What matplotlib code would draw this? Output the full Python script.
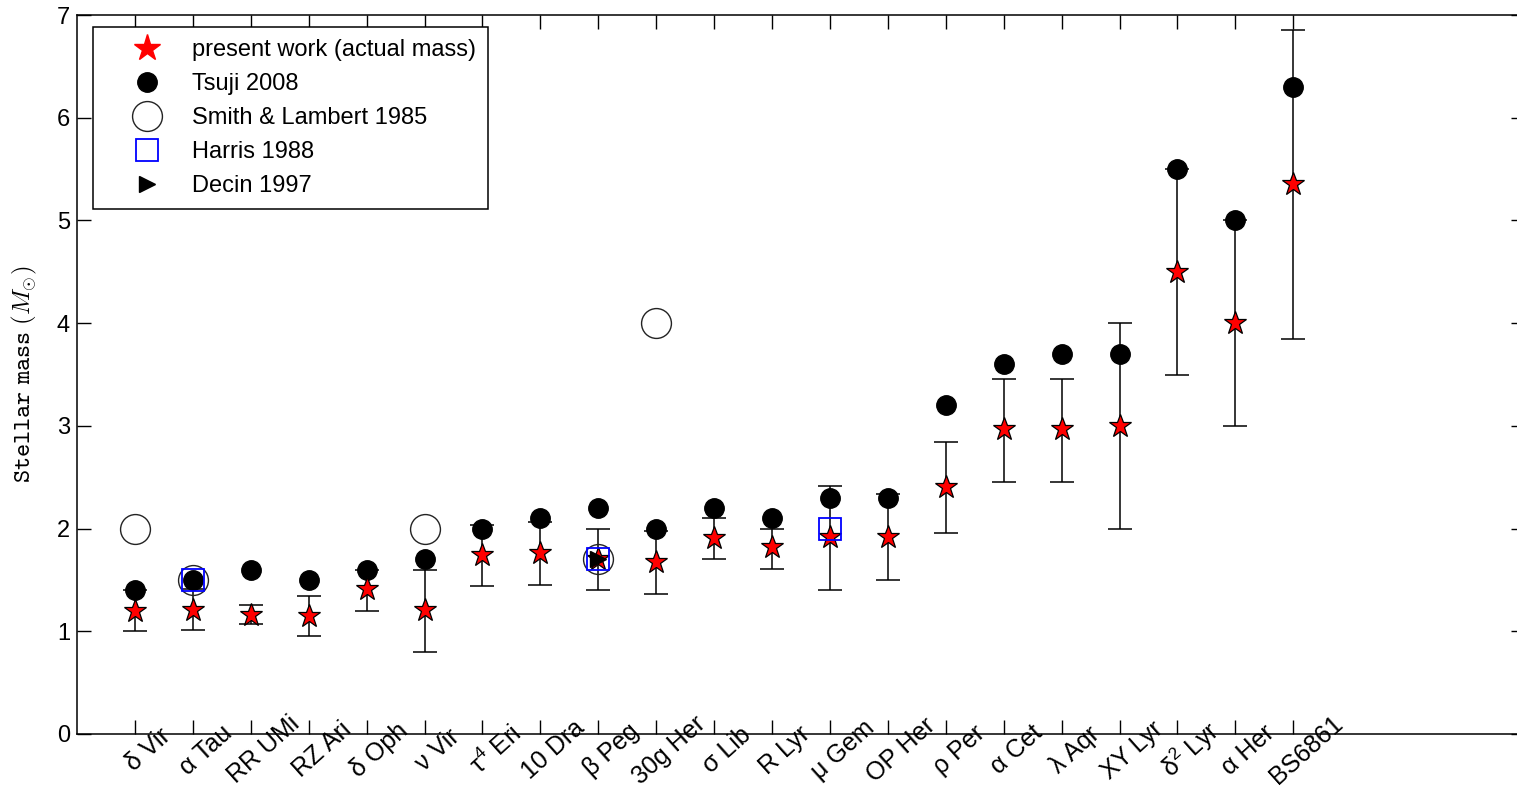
import numpy as np
import matplotlib
matplotlib.use('Agg')
from matplotlib import pyplot as plt
from matplotlib.lines import Line2D
from matplotlib.transforms import ScaledTranslation

plt.rcParams['font.family'] = ['Liberation Sans', 'DejaVu Sans']

# star names along the x axis
stars = ['δ Vir', 'α Tau', 'RR UMi', 'RZ Ari', 'δ Oph', 'ν Vir',
         r'τ$\mathregular{^4}$ Eri', '10 Dra', 'β Peg', '30g Her', 'σ Lib',
         'R Lyr', 'μ Gem', 'OP Her', 'ρ Per', 'α Cet', 'λ Aqr', 'XY Lyr',
         r'δ$\mathregular{^2}$ Lyr', 'α Her', 'BS6861']
xpos = np.arange(1, len(stars) + 1)

# present work (actual mass) with error range
present = [1.20, 1.21, 1.16, 1.15, 1.41, 1.21, 1.74, 1.76, 1.70, 1.67, 1.91,
           1.82, 1.92, 1.92, 2.40, 2.97, 2.97, 3.00, 4.50, 4.00, 5.35]
err_lo = [1.00, 1.01, 1.07, 0.95, 1.20, 0.80, 1.44, 1.45, 1.40, 1.36, 1.70,
          1.61, 1.40, 1.50, 1.96, 2.45, 2.45, 2.00, 3.50, 3.00, 3.85]
err_hi = [1.40, 1.41, 1.26, 1.34, 1.60, 1.60, 2.03, 2.06, 2.00, 1.98, 2.10,
          2.00, 2.41, 2.34, 2.84, 3.46, 3.46, 4.00, 5.50, 5.00, 6.85]

# Tsuji 2008
tsuji = [1.4, 1.5, 1.6, 1.5, 1.6, 1.7, 2.0, 2.1, 2.2, 2.0, 2.2,
         2.1, 2.3, 2.3, 3.2, 3.6, 3.7, 3.7, 5.5, 5.0, 6.3]

# Smith & Lambert 1985
smith_x = [1, 2, 6, 9, 10]
smith_y = [2.0, 1.5, 2.0, 1.7, 4.0]

# Harris 1988
harris_x = [2, 9, 13]
harris_y = [1.5, 1.7, 2.0]

# Decin 1997
decin_x = [9]
decin_y = [1.7]

# --------------------------------------------------------------------------- #

W, H = 1517, 788
fig = plt.figure(figsize=(W / 100., H / 100.), dpi=100)
ax = fig.add_axes([77. / W, 1 - 734. / H, 1448. / W, 719. / H])

present = np.array(present)
yerr = [present - np.array(err_lo), np.array(err_hi) - present]
ax.errorbar(xpos, present, yerr=yerr, fmt='none', ecolor='k', elinewidth=1.1,
            capsize=8.3, capthick=1.1, zorder=2)
ax.plot(xpos, tsuji, 'o', ms=14, color='k', ls='none', zorder=3)
ax.plot(xpos, present, '*', ms=17, mfc='red', mec='k', mew=0.9, ls='none', zorder=4)
ax.plot(smith_x, smith_y, 'o', ms=21.5, mfc='none', mec='#222222', mew=1.0,
        ls='none', zorder=5)
ax.plot(harris_x, harris_y, 's', ms=16, mfc='none', mec='blue', mew=1.3,
        ls='none', zorder=6)
ax.plot(decin_x, decin_y, '>', ms=12, color='k', ls='none', zorder=7)

ax.set_xlim(0, 25)
ax.set_ylim(0, 7)
ax.set_yticks(range(0, 8))
ax.set_xticks(xpos)
ax.set_xticklabels(stars, rotation=42, rotation_mode='anchor', ha='center',
                   va='center', fontsize=18)
ax.tick_params(axis='both', direction='in', length=10, width=1.0,
               top=True, right=True, labelsize=17, colors='k')
ax.tick_params(axis='x', pad=11.5, labelsize=18)
ax.tick_params(axis='y', pad=5)
offset = ScaledTranslation(0.13, 0, fig.dpi_scale_trans)
for lbl in ax.get_xticklabels():
    lbl.set_transform(lbl.get_transform() + offset)
for sp in ax.spines.values():
    sp.set_linewidth(1.1)

# latex-style label: typewriter text plus M_sun
ax.set_ylabel(r'$\mathtt{Stellar\ mass}\ (M_{\odot})$', fontsize=18,
              math_fontfamily='cm')
ax.yaxis.set_label_coords(-0.026, 0.5)

handles = [
    Line2D([], [], ls='none', marker='*', ms=20, color='red', mec='red'),
    Line2D([], [], ls='none', marker='o', ms=14, color='k'),
    Line2D([], [], ls='none', marker='o', ms=21.5, mfc='none', mec='#222222', mew=1.0),
    Line2D([], [], ls='none', marker='s', ms=16, mfc='none', mec='blue', mew=1.3),
    Line2D([], [], ls='none', marker='>', ms=12, color='k'),
]
labels = ['present work (actual mass)', 'Tsuji 2008', 'Smith & Lambert 1985',
          'Harris 1988', 'Decin 1997']
leg = ax.legend(handles, labels, loc='upper left', bbox_to_anchor=(0.011, 0.983),
                borderaxespad=0, fontsize=17, handlelength=3.6, handletextpad=0.1,
                labelspacing=0.51, borderpad=0.5, fancybox=False, framealpha=1,
                edgecolor='k')
leg.get_frame().set_linewidth(1.1)

fig.savefig('out.png', dpi=100)
